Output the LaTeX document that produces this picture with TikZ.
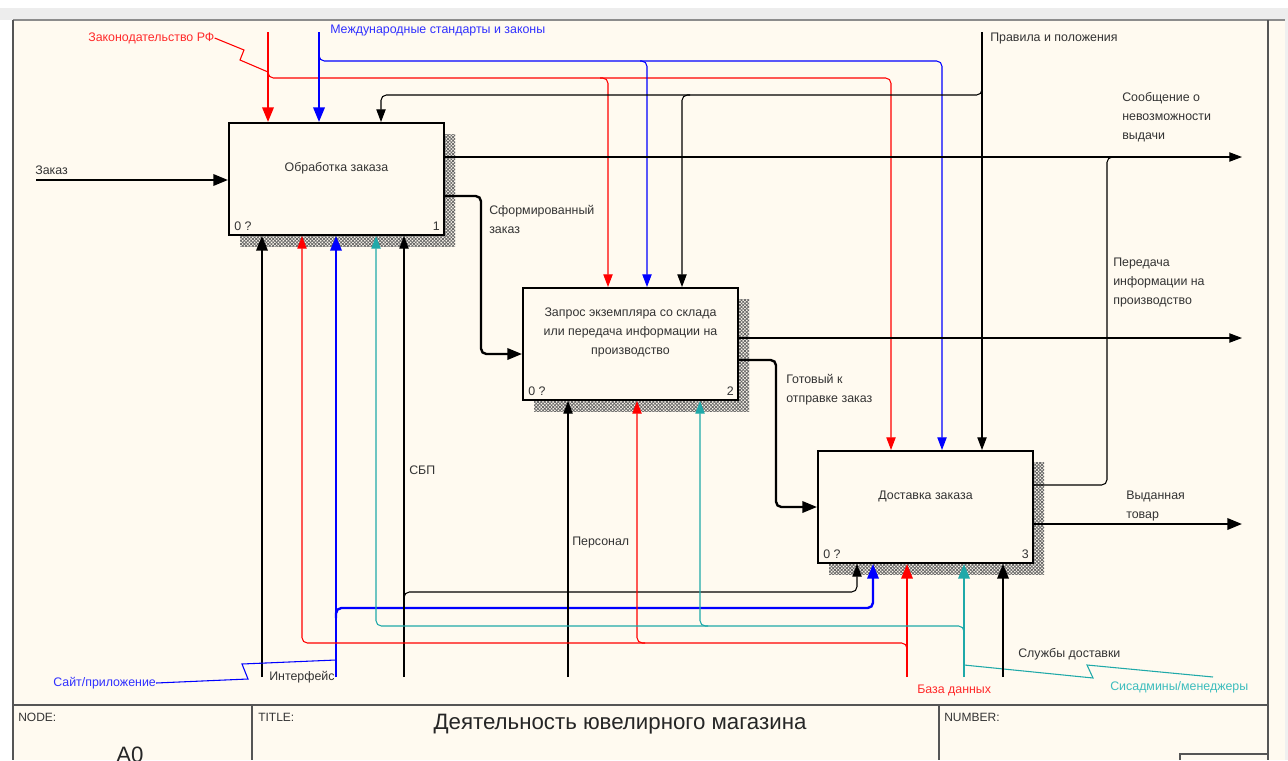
\documentclass[tikz,border=0pt]{standalone}
\usepackage{fontspec}
\setmainfont{Liberation Sans}
\usepackage{tikz}
\usetikzlibrary{arrows.meta,calc,patterns.meta}

\definecolor{paper}{HTML}{FFFAF0}
\definecolor{idefred}{HTML}{FF0000}
\definecolor{idefblue}{HTML}{0000FF}
\definecolor{idefteal}{HTML}{1FA9A9}
\definecolor{labred}{HTML}{FF2A2A}
\definecolor{labblue}{HTML}{3030FF}
\definecolor{labteal}{HTML}{3CBDBD}
\definecolor{txtgray}{HTML}{333333}
\definecolor{framegray}{HTML}{555555}

\begin{document}
\begin{tikzpicture}[x=0.75pt,y=-0.75pt,
  box/.style={draw, line width=1.5pt, fill=paper, anchor=north west, minimum width=161.25pt, minimum height=84pt, inner sep=0pt},
  hatch/.style={pattern={Lines[angle=45,distance=1.8pt,line width=0.6pt]}, pattern color=black!60,
    postaction={pattern={Lines[angle=-45,distance=1.8pt,line width=0.6pt]}, pattern color=black!60}},
  thk/.style={line width=1.8pt, rounded corners=4pt, -{Triangle[length=11pt,width=8.5pt]}},
  thn/.style={line width=0.8pt, rounded corners=4pt, -{Triangle[length=9.5pt,width=7pt]}},
  wire/.style={line width=0.8pt},
  lbl/.style={font=\fontsize{9.3}{14.25}\selectfont, text=txtgray, inner sep=0pt, align=left},
  frm/.style={font=\fontsize{9}{11}\selectfont, text=txtgray, inner sep=0pt, anchor=west}]

  \useasboundingbox (0,0) rectangle (1288,760);
  \fill[white] (0,0) rectangle (1288,760);
  \fill[black!7] (0,8) rectangle (1288,20);
  \fill[paper] (13,20) rectangle (1285,760);
  \fill[black!6] (1285,20) rectangle (1288,760);
  \draw[black!45, line width=0.8pt] (13,20) -- (1285,20);
  \draw[framegray, line width=1.5pt] (13,20) -- (13,760);
  \draw[framegray, line width=1.5pt] (1268,20) -- (1268,760);

  \coordinate (p1) at (228,122);
  \coordinate (p2) at (522,287);
  \coordinate (p3) at (817,450);
  \path[hatch] ($(p1)+(12,12)$) rectangle ++(215,112);
  \path[hatch] ($(p2)+(12,12)$) rectangle ++(215,112);
  \path[hatch] ($(p3)+(12,12)$) rectangle ++(215,112);
  \node[box] (b1) at (p1) {};
  \node[box] (b2) at (p2) {};
  \node[box] (b3) at (p3) {};

  \node[lbl] (b1t) at ($(b1.north)+(0,46)$) {Обработка заказа};
  \node[lbl, align=center] (b2t) at ($(b2.north)+(0,45)$) {Запрос экземпляра со склада\\или передача информации на\\производство};
  \node[lbl] (b3t) at ($(b3.north)+(0,46)$) {Доставка заказа};
  \node[lbl, anchor=west] (b1z) at ($(b1.south west)+(6,-10)$) {0 ?};
  \node[lbl, anchor=east] (b1n) at ($(b1.south east)+(-5,-10)$) {1};
  \node[lbl, anchor=west] (b2z) at ($(b2.south west)+(6,-10)$) {0 ?};
  \node[lbl, anchor=east] (b2n) at ($(b2.south east)+(-5,-10)$) {2};
  \node[lbl, anchor=west] (b3z) at ($(b3.south west)+(6,-10)$) {0 ?};
  \node[lbl, anchor=east] (b3n) at ($(b3.south east)+(-5,-10)$) {3};

  \coordinate (zin) at (36,180);
  \coordinate (rlaw) at (268,32);
  \coordinate (blaw) at (319,32);
  \coordinate (rules) at (982,32);
  \coordinate (o1) at (1242,157);
  \coordinate (o2) at (1242,338);
  \coordinate (o3) at (1242,524);
  \coordinate (intf) at (262,677);
  \coordinate (site) at (336,677);
  \coordinate (sbp) at (404,677);
  \coordinate (pers) at (568,677);
  \coordinate (db) at (907,677);
  \coordinate (adm) at (964,677);
  \coordinate (deliv) at (1003,677);

  \node[lbl, anchor=west] (zakazlbl) at (35,170) {Заказ};
  \node[lbl, anchor=west, text=labred] (lawlbl) at (88,38) {Законодательство РФ};
  \node[lbl, anchor=west, text=labblue] (stdlbl) at (330,31) {Международные стандарты и законы};
  \node[lbl, anchor=west] (ruleslbl) at (990,39) {Правила и положения};
  \node[lbl, anchor=north west] (msglbl) at (1122,92) {Сообщение о\\невозможности\\выдачи};
  \node[lbl, anchor=north west] (formlbl) at (489,205) {Сформированный\\заказ};
  \node[lbl, anchor=north west] (prodlbl) at (1113,258) {Передача\\информации на\\производство};
  \node[lbl, anchor=north west] (readylbl) at (786,374) {Готовый к\\отправке заказ};
  \node[lbl, anchor=north west] (goodlbl) at (1126,491) {Выданная\\товар};
  \node[lbl, anchor=west] (sbplbl) at (409,470) {СБП};
  \node[lbl, anchor=west] (perslbl) at (572,543) {Персонал};
  \node[lbl, anchor=west] (intflbl) at (269,677) {Интерфейс};
  \node[lbl, anchor=west, text=labblue] (sitelbl) at (53,683) {Сайт/приложение};
  \node[lbl, anchor=west] (delivlbl) at (1018,654) {Службы доставки};
  \node[lbl, anchor=west, text=labred] (dblbl) at (917,690) {База данных};
  \node[lbl, anchor=west, text=labteal] (admlbl) at (1110,687) {Сисадмины/менеджеры};

  \draw[thk] (zin) -- (zin -| b1.west);

  \draw[thk, idefred] (rlaw) -- (rlaw |- b1.north);
  \draw[thn, idefred] (268,66) |- (608,78) -- (608,0 |- b2.north);
  \draw[thn, idefred] (600,78) -| (891,0 |- b3.north);
  \draw[wire, idefred] (lawlbl.east) -- (244,50) -- (240,60) -- (268,72);

  \draw[thk, idefblue] (blaw) -- (blaw |- b1.north);
  \draw[thn, idefblue] (319,54) |- (647,61) -- (647,0 |- b2.north);
  \draw[thn, idefblue] (640,61) -| (942,0 |- b3.north);

  \draw[thn] (rules) -- (rules |- b3.north);
  \draw[thn] (982,88) |- (682,95) -- (682,0 |- b2.north);
  \draw[thn] (690,95) -| (381,0 |- b1.north);

  \draw[thn] (o1 -| b1.east) -- (o1);
  \draw[thk] (b1.east |- 0,196) -| (481,354) -- (b2.west |- 0,354);
  \draw[thn] (o2 -| b2.east) -- (o2);
  \draw[thk] (b2.east |- 0,360) -| (776,507) -- (b3.west |- 0,507);
  \draw[thk] (o3 -| b3.east) -- (o3);
  \draw[wire, rounded corners=4pt] (b3.east |- 0,485) -| (1107,157) -- (1118,157);

  \draw[thk] (intf) -- (intf |- b1.south);
  \draw[thk, idefblue] (site) -- (site |- b1.south);
  \draw[thk, idefblue] (336,618) |- (873,608) -- (873,0 |- b3.south);
  \draw[wire, idefblue] (sitelbl.east) -- (248,679) -- (242,664) -- (336,660);
  \draw[thn] (sbp) -- (sbp |- b1.south);
  \draw[thn] (404,600) |- (857,592) -- (857,0 |- b3.south);
  \draw[thn] (pers) -- (pers |- b2.south);
  \draw[thk, idefred] (db) -- (db |- b3.south);
  \draw[thn, idefred] (907,652) |- (637,643) -- (637,0 |- b2.south);
  \draw[thn, idefred] (645,643) -| (302,0 |- b1.south);
  \draw[thk, idefteal] (adm) -- (adm |- b3.south);
  \draw[thn, idefteal] (964,634) |- (700,626) -- (700,0 |- b2.south);
  \draw[thn, idefteal] (708,626) -| (376,0 |- b1.south);
  \draw[wire, idefteal] (964,665) -- (1093,678) -- (1087,665) -- (1213,677);
  \draw[thk] (deliv) -- (deliv |- b3.south);

  \draw[framegray, line width=1pt] (13,705) -- (1268,705);
  \draw[framegray, line width=1pt] (252,705) -- (252,760);
  \draw[framegray, line width=1pt] (939,705) -- (939,760);
  \draw[framegray, line width=1pt] (1180,760) -- (1180,754) -- (1268,754);
  \node[frm] (nodelbl) at (18,717) {NODE:};
  \node[frm] (titlelbl) at (258,717) {TITLE:};
  \node[frm] (numlbl) at (944,717) {NUMBER:};
  \node[font=\fontsize{16.7}{19}\selectfont, text=black!85, inner sep=0pt] (title) at (620,724) {Деятельность ювелирного магазина};
  \node[font=\fontsize{16.7}{19}\selectfont, text=black!85, inner sep=0pt, anchor=base] (nodeno) at (130,762) {A0};
\end{tikzpicture}
\end{document}
